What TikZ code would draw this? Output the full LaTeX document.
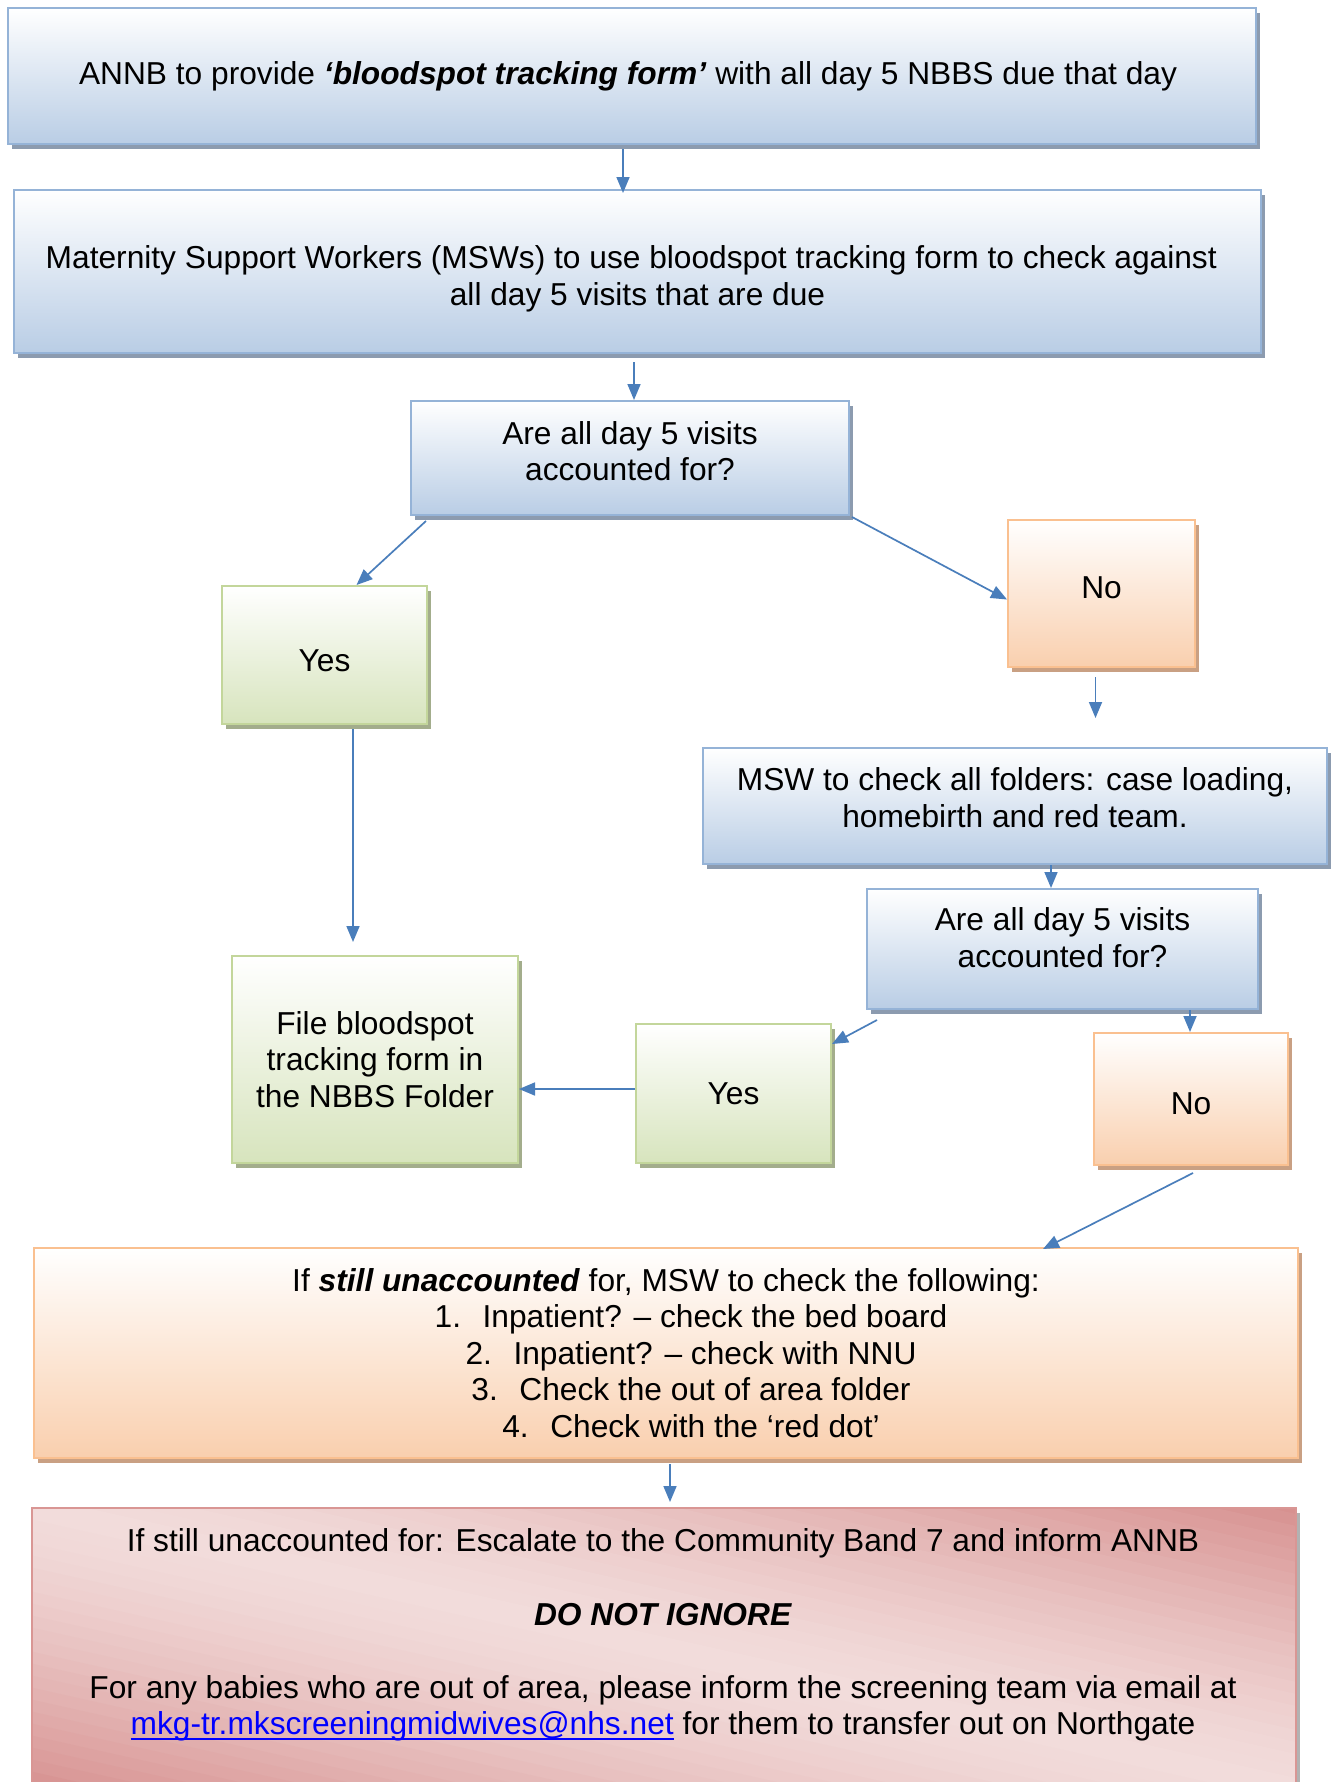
\documentclass[tikz,border=0pt]{standalone}
\usepackage{fontspec}
\setmainfont{Liberation Sans}
\usetikzlibrary{arrows.meta,shadows}

\definecolor{bluebot}{HTML}{B9CDE5}
\definecolor{blueedge}{HTML}{95B3D7}
\definecolor{blueshad}{HTML}{8C9BAF}
\definecolor{greenbot}{HTML}{D7E4BD}
\definecolor{greenedge}{HTML}{C3D69B}
\definecolor{greenshad}{HTML}{A3AD8C}
\definecolor{orbot}{HTML}{F9CFAE}
\definecolor{oredge}{HTML}{FAC090}
\definecolor{orshad}{HTML}{C9A083}
\definecolor{arrowblue}{HTML}{4A7EBB}
\definecolor{rdark}{HTML}{D79190}
\definecolor{rlight}{HTML}{F2DCDB}
\definecolor{redge}{HTML}{D99694}
\definecolor{linkblue}{HTML}{0000FF}

\newcommand\myfs{\fontsize{31.7}{36.5}\selectfont}
\newcommand\linkul[1]{\setbox0\hbox{#1}\rlap{\rule[-5pt]{\wd0}{2.2pt}}\box0}

\tikzset{
  box/.style={draw, line width=2pt, inner sep=4pt, align=center, font=\myfs},
  bluebox/.style={box, draw=blueedge, top color=white, bottom color=bluebot,
    drop shadow={shadow xshift=4pt, shadow yshift=-5pt, fill=blueshad, opacity=1}},
  greenbox/.style={box, draw=greenedge, top color=white, bottom color=greenbot,
    drop shadow={shadow xshift=4pt, shadow yshift=-5pt, fill=greenshad, opacity=1}},
  orbox/.style={box, draw=oredge, top color=white, bottom color=orbot,
    drop shadow={shadow xshift=4pt, shadow yshift=-5pt, fill=orshad, opacity=1}},
  arr/.style={draw=arrowblue, line width=1.7pt, -{Triangle[length=16pt,width=13pt]}},
  txt/.style={align=center, font=\myfs, inner sep=0pt}
}

\begin{document}
\begin{tikzpicture}[x=1pt,y=-1pt]
\useasboundingbox (0,0) rectangle (1333,1782);
\fill[white] (0,0) rectangle (1333,1782);
\clip (0,0) rectangle (1333,1782);

% boxes
\node[bluebox, minimum width=1248pt, minimum height=136pt] (n1) at (632,76)
  {ANNB to provide \textbf{\textit{‘bloodspot tracking form’}} with all day 5 NBBS due that day\hspace*{8pt}};
\node[bluebox, minimum width=1247pt, minimum height=163pt] (n2) at (637.5,271.5) {};
\node[txt] (n2t) at ([yshift=-7.4pt]n2.center)
  {Maternity Support Workers (MSWs) to use bloodspot tracking form to check against\hspace*{12.5pt}\\all day 5 visits that are due};

\node[bluebox, minimum width=438pt, minimum height=114pt] (q1) at (630,458) {};
\node[txt] (q1t) at ([yshift=7pt]q1.center) {Are all day 5 visits\\accounted for?};

\node[greenbox, minimum width=205pt, minimum height=138pt] (yes1) at (324.5,655) {};
\node[txt] (yes1t) at ([yshift=-5.7pt]yes1.center) {Yes};

\node[orbox, minimum width=187pt, minimum height=147pt] (no1) at (1101.5,593.5) {};
\node[txt] (no1t) at ([yshift=5.7pt]no1.center) {No};

\node[bluebox, minimum width=624pt, minimum height=116pt] (msw) at (1015,806) {};
\node[txt] (mswt) at ([yshift=8.5pt]msw.center) {MSW to check all folders: case loading,\\homebirth and red team.};

\node[bluebox, minimum width=391pt, minimum height=120pt] (q2) at (1062.5,949) {};
\node[txt] (q2t) at ([yshift=11.4pt]q2.center) {Are all day 5 visits\\accounted for?};

\node[greenbox, minimum width=286pt, minimum height=207pt] (file) at (375,1059.5)
  {File bloodspot\\tracking form in\\the NBBS Folder};
\node[greenbox, minimum width=195pt, minimum height=139pt] (yes2) at (733.5,1093.5) {Yes};

\node[orbox, minimum width=194pt, minimum height=132pt] (no2) at (1191,1099) {};
\node[txt] (no2t) at ([yshift=-4.5pt]no2.center) {No};

\node[orbox, minimum width=1264pt, minimum height=210pt] (big) at (666,1353)
  {If \textbf{\textit{still unaccounted}} for, MSW to check the following:\\
   \hspace*{50pt}\makebox[48pt][l]{1.}Inpatient? – check the bed board\\
   \hspace*{50pt}\makebox[48pt][l]{2.}Inpatient? – check with NNU\\
   \hspace*{50pt}\makebox[48pt][l]{3.}Check the out of area folder\\
   \hspace*{50pt}\makebox[48pt][l]{4.}Check with the ‘red dot’};

% red box: diagonal dark-light-dark gradient
\fill[gray!60] (36,1513) rectangle (1300,1795);
\begin{scope}
  \clip (32,1508) rectangle (1296,1790);
  \foreach \k in {-24,...,23}{
    \pgfmathsetmacro\vv{abs(\k*12+6)/282}
    \pgfmathsetmacro\pp{min(100,100*(\vv^1.4))}
    \fill[rdark!\pp!rlight] (20,{1505+12*\k}) -- (1310,{1793+12*\k}) -- (1310,{1806+12*\k}) -- (20,{1518+12*\k}) -- cycle;
  }
\end{scope}
\node[draw=redge, line width=2pt, minimum width=1264pt, minimum height=282pt] (red) at (664,1649) {};
\node[txt] (redtext) at (663,1635)
  {If still unaccounted for: Escalate to the Community Band 7 and inform ANNB\\[38pt]
   \textbf{\textit{DO NOT IGNORE}}\\[36pt]
   For any babies who are out of area, please inform the screening team via email at\\
   \textcolor{linkblue}{\linkul{mkg-tr.mkscreeningmidwives@nhs.net}} for them to transfer out on Northgate};

% connectors
\draw[arr] ([xshift=-9pt,yshift=-4pt]n1.south) -- ([xshift=-9pt,yshift=-4pt]n1.south |- n2.north);
\draw[arr] ([xshift=-3.5pt,yshift=-8pt]n2.south) -- ([xshift=-3.5pt]n2.south |- q1.north);
\draw[arr] ([xshift=16pt,yshift=-5pt]q1.south west) -- ([xshift=32pt]yes1.north);
\draw[arr] ([xshift=2pt,yshift=-1pt]q1.south east) -- ([yshift=-6pt]no1.west);
\draw[arr] ([xshift=-6pt,yshift=-9pt]no1.south) -- ([xshift=-6pt,yshift=29pt]no1.south |- msw.north);
\draw[arr] ([xshift=-11.5pt]q2.north |- msw.south) -- ([xshift=-11.5pt]q2.north);
\draw[arr] ([xshift=11pt,yshift=-10pt]q2.south west) -- ([yshift=-21pt]yes2.north east);
\draw[arr] ([xshift=-1pt]no2.north |- q2.south) -- ([xshift=-1pt]no2.north);
\draw[arr] ([xshift=28.5pt,yshift=-4pt]yes1.south) -- ([xshift=28.5pt,yshift=13pt]yes1.south |- file.north);
\draw[arr] ([yshift=4.5pt]yes2.west) -- ([yshift=4.5pt]yes2.west -| file.east);
\draw[arr] ([xshift=2pt,yshift=-7pt]no2.south) -- ([xshift=377pt,yshift=-2pt]big.north);
\draw[arr] ([xshift=4pt,yshift=-5pt]big.south) -- ([xshift=4pt,yshift=5pt]big.south |- red.north);
\end{tikzpicture}
\end{document}
